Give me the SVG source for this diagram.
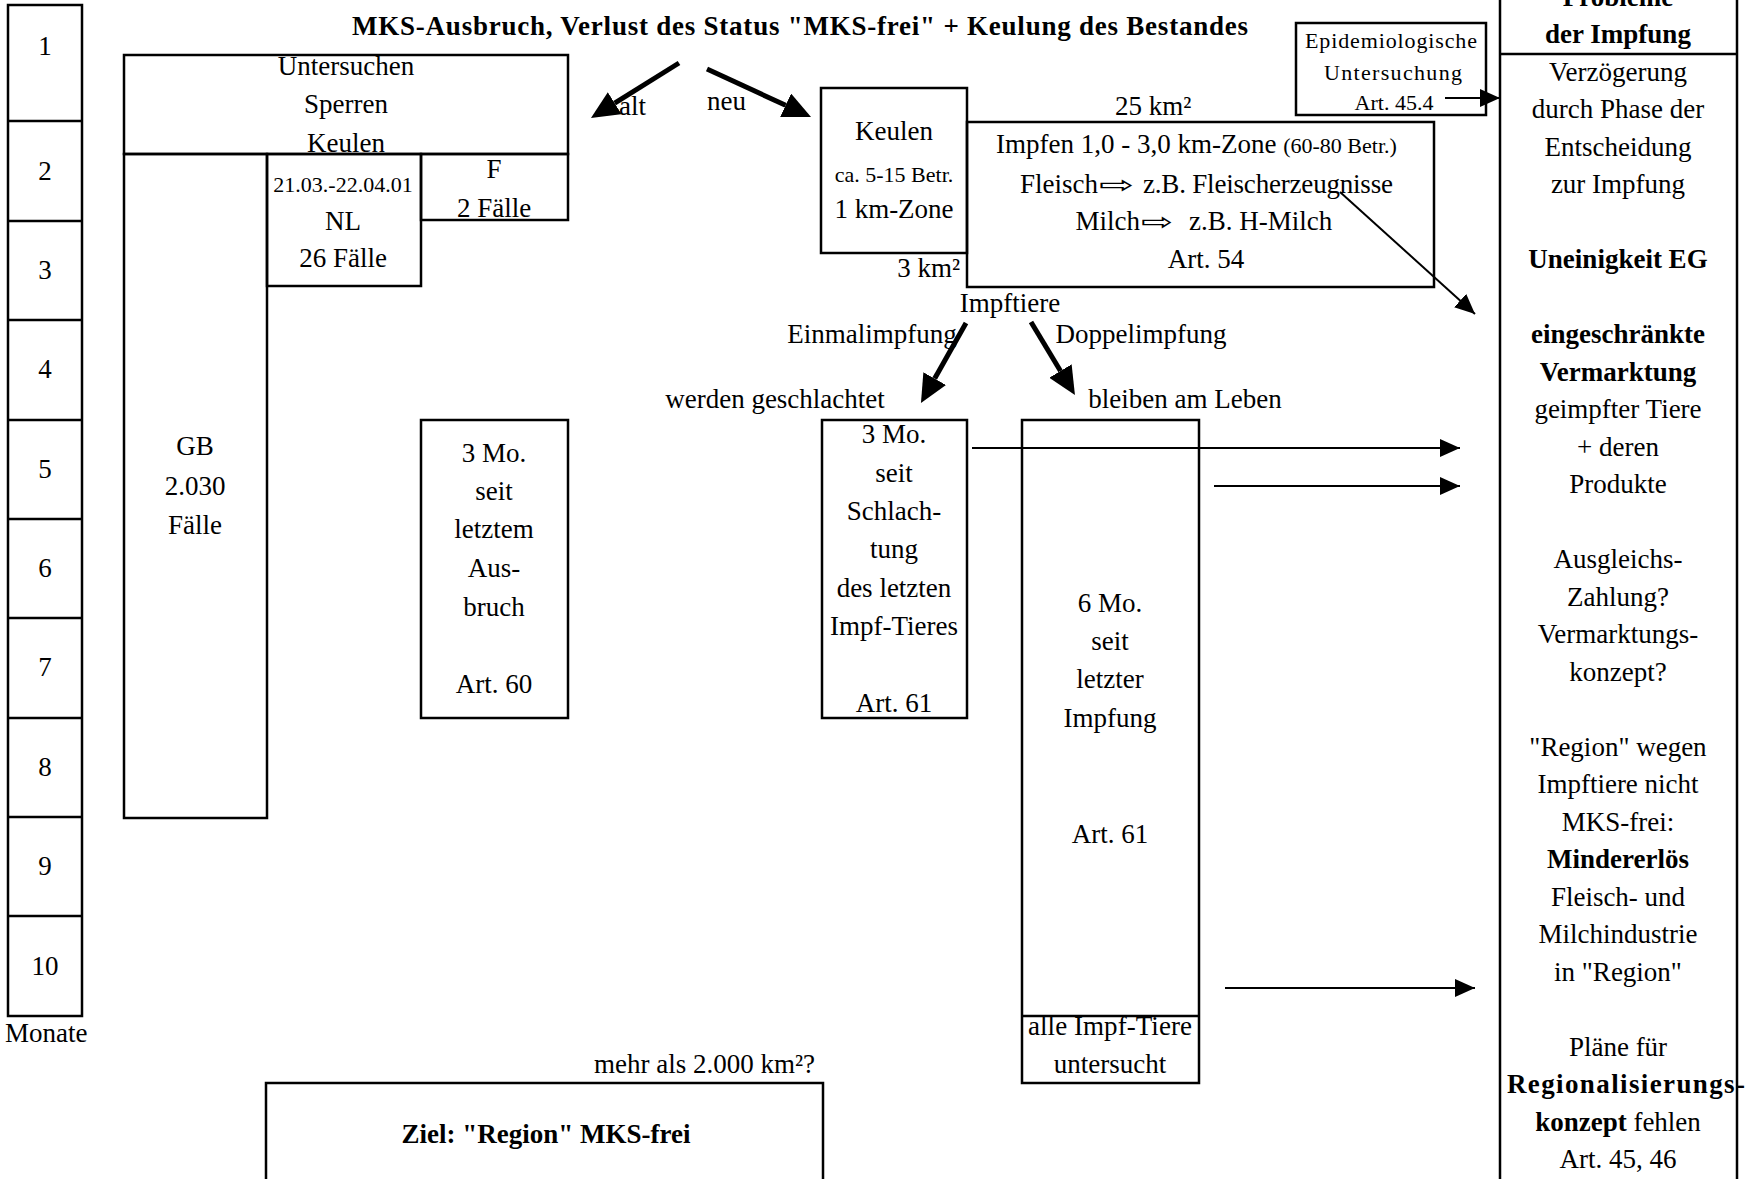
<svg xmlns="http://www.w3.org/2000/svg" width="1750" height="1179" viewBox="0 0 1750 1179">
<defs>
<style>
text { font-family: "Liberation Serif", "Times New Roman", serif; font-size: 27px; fill: #000; }
.b { font-weight: bold; }
.s { font-size: 22px; }
.m { text-anchor: middle; }
.e { text-anchor: end; }
.box { fill: none; stroke: #000; stroke-width: 2.5; }
.ln { fill: none; stroke: #000; stroke-width: 2.5; }
.thin { fill: none; stroke: #000; stroke-width: 2; }
.thick { fill: none; stroke: #000; stroke-width: 5; }
.sym { font-family: "DejaVu Sans", sans-serif; font-size: 24px; }
</style>
<marker id="ah" markerUnits="userSpaceOnUse" markerWidth="20" markerHeight="18" refX="20" refY="9" orient="auto"><path d="M0,0 L20,9 L0,18 z" fill="#000"/></marker>
<marker id="big" markerUnits="userSpaceOnUse" markerWidth="28" markerHeight="26" refX="0" refY="13" orient="auto"><path d="M0,0 L28,13 L0,26 z" fill="#000"/></marker>
</defs>
<rect width="1750" height="1179" fill="#fff"/>

<g id="title">
<text class="b m" x="800" y="35" font-size="29" textLength="896">MKS-Ausbruch, Verlust des Status "MKS-frei" + Keulung des Bestandes</text>
</g>

<g id="months">
<rect class="box" x="8" y="5" width="74" height="1011"/>
<path class="ln" d="M8,121H82M8,221H82M8,320H82M8,420H82M8,519H82M8,618H82M8,718H82M8,817H82M8,916H82"/>
<text class="m" x="45" y="55">1</text>
<text class="m" x="45" y="180">2</text>
<text class="m" x="45" y="279">3</text>
<text class="m" x="45" y="378">4</text>
<text class="m" x="45" y="478">5</text>
<text class="m" x="45" y="577">6</text>
<text class="m" x="45" y="676">7</text>
<text class="m" x="45" y="776">8</text>
<text class="m" x="45" y="875">9</text>
<text class="m" x="45" y="975">10</text>
<text x="5" y="1042">Monate</text>
</g>

<g id="alt-massnahmen">
<rect class="box" x="124" y="55" width="444" height="99"/>
<text class="m" x="346" y="75">Untersuchen</text>
<text class="m" x="346" y="113">Sperren</text>
<text class="m" x="346" y="152">Keulen</text>
</g>

<g id="gb">
<rect class="box" x="124" y="154" width="143" height="664"/>
<text class="m" x="195" y="455">GB</text>
<text class="m" x="195" y="495">2.030</text>
<text class="m" x="195" y="534">Fälle</text>
</g>

<g id="nl">
<rect class="box" x="267" y="154" width="154" height="132"/>
<text class="m s" x="343" y="192">21.03.-22.04.01</text>
<text class="m" x="343" y="230">NL</text>
<text class="m" x="343" y="267">26 Fälle</text>
</g>

<g id="f">
<rect class="box" x="421" y="154" width="147" height="66"/>
<text class="m" x="494" y="178">F</text>
<text class="m" x="494" y="217">2 Fälle</text>
</g>

<g id="art60">
<rect class="box" x="421" y="420" width="147" height="298"/>
<text class="m" x="494" y="462">3 Mo.</text>
<text class="m" x="494" y="500">seit</text>
<text class="m" x="494" y="538">letztem</text>
<text class="m" x="494" y="577">Aus-</text>
<text class="m" x="494" y="616">bruch</text>
<text class="m" x="494" y="693">Art. 60</text>
</g>

<g id="keulen">
<rect class="box" x="821" y="88" width="146" height="165"/>
<text class="m" x="894" y="140">Keulen</text>
<text class="m s" x="894" y="182">ca. 5-15 Betr.</text>
<text class="m" x="894" y="218">1 km-Zone</text>
<text class="e" x="960" y="277">3 km²</text>
</g>

<g id="impfen">
<rect class="box" x="967" y="122" width="467" height="165"/>
<text x="1115" y="115">25 km²</text>
<text x="996" y="153">Impfen 1,0 - 3,0 km-Zone <tspan class="s">(60-80 Betr.)</tspan></text>
<text class="e" x="1098" y="193">Fleisch</text>
<text class="sym" transform="translate(1099,193) scale(1.75,1)">⇨</text>
<text x="1143" y="193" textLength="250">z.B. Fleischerzeugnisse</text>
<text class="e" x="1140" y="230">Milch</text>
<text class="sym" transform="translate(1141,230) scale(1.6,1)">⇨</text>
<text x="1189" y="230">z.B. H-Milch</text>
<text class="m" x="1206" y="268">Art. 54</text>
</g>

<g id="epi">
<rect class="box" x="1296" y="23" width="190" height="92"/>
<text class="m s" x="1391" y="48" textLength="172">Epidemiologische</text>
<text class="m s" x="1393" y="80" textLength="138">Untersuchung</text>
<text class="m s" x="1394" y="110">Art. 45.4</text>
</g>

<g id="labels">
<text x="619" y="115">alt</text>
<text x="707" y="110">neu</text>
<text class="m" x="1010" y="312">Impftiere</text>
<text class="m" x="872" y="343">Einmalimpfung</text>
<text class="m" x="1141" y="343">Doppelimpfung</text>
<text class="m" x="775" y="408">werden geschlachtet</text>
<text class="m" x="1185" y="408">bleiben am Leben</text>
</g>

<g id="art61-schlachtung">
<rect class="box" x="822" y="420" width="145" height="298"/>
<text class="m" x="894" y="443">3 Mo.</text>
<text class="m" x="894" y="482">seit</text>
<text class="m" x="894" y="520">Schlach-</text>
<text class="m" x="894" y="558">tung</text>
<text class="m" x="894" y="597">des letzten</text>
<text class="m" x="894" y="635">Impf-Tieres</text>
<text class="m" x="894" y="712">Art. 61</text>
</g>

<g id="art61-impfung">
<rect class="box" x="1022" y="420" width="177" height="663"/>
<text class="m" x="1110" y="612">6 Mo.</text>
<text class="m" x="1110" y="650">seit</text>
<text class="m" x="1110" y="688">letzter</text>
<text class="m" x="1110" y="727">Impfung</text>
<text class="m" x="1110" y="843">Art. 61</text>
<text class="m" x="1110" y="1035" textLength="164">alle Impf-Tiere</text>
<text class="m" x="1110" y="1073">untersucht</text>
<path class="ln" d="M1022,1016H1199"/>
</g>

<g id="ziel">
<text class="e" x="815" y="1073">mehr als 2.000 km²?</text>
<rect class="box" x="266" y="1083" width="557" height="130"/>
<text class="b m" x="546" y="1143" font-size="28">Ziel: "Region" MKS-frei</text>
</g>

<g id="probleme">
<rect class="box" x="1500" y="-5" width="237" height="1200"/>
<path class="ln" d="M1500,54H1737"/>
<text class="b m" x="1618" y="5.5">Probleme</text>
<text class="b m" x="1618" y="43">der Impfung</text>
<text class="m" x="1618" y="80.5">Verzögerung</text>
<text class="m" x="1618" y="118">durch Phase der</text>
<text class="m" x="1618" y="155.5">Entscheidung</text>
<text class="m" x="1618" y="193">zur Impfung</text>
<text class="b m" x="1618" y="268">Uneinigkeit EG</text>
<text class="b m" x="1618" y="343">eingeschränkte</text>
<text class="b m" x="1618" y="380.5">Vermarktung</text>
<text class="m" x="1618" y="418">geimpfter Tiere</text>
<text class="m" x="1618" y="455.5">+ deren</text>
<text class="m" x="1618" y="493">Produkte</text>
<text class="m" x="1618" y="568">Ausgleichs-</text>
<text class="m" x="1618" y="605.5">Zahlung?</text>
<text class="m" x="1618" y="643">Vermarktungs-</text>
<text class="m" x="1618" y="680.5">konzept?</text>
<text class="m" x="1618" y="755.5">"Region" wegen</text>
<text class="m" x="1618" y="793">Impftiere nicht</text>
<text class="m" x="1618" y="830.5">MKS-frei:</text>
<text class="b m" x="1618" y="868">Mindererlös</text>
<text class="m" x="1618" y="905.5">Fleisch- und</text>
<text class="m" x="1618" y="943">Milchindustrie</text>
<text class="m" x="1618" y="980.5">in "Region"</text>
<text class="m" x="1618" y="1055.5">Pläne für</text>
<text class="b m" x="1626" y="1093" textLength="238">Regionalisierungs-</text>
<text class="m" x="1618" y="1130.5"><tspan class="b">konzept</tspan> fehlen</text>
<text class="m" x="1618" y="1168">Art. 45, 46</text>
</g>

<g id="connectors">
<line class="thick" x1="679" y1="63" x2="614.7" y2="103.2" marker-end="url(#big)"/>
<line class="thick" x1="707" y1="69" x2="785.6" y2="105.3" marker-end="url(#big)"/>
<line class="thick" x1="966" y1="323" x2="934.7" y2="378.6" marker-end="url(#big)"/>
<line class="thick" x1="1031" y1="322" x2="1060.5" y2="371" marker-end="url(#big)"/>
<line class="thin" x1="1445" y1="98" x2="1500" y2="98" marker-end="url(#ah)"/>
<line class="thin" x1="1340" y1="192" x2="1475" y2="314" marker-end="url(#ah)"/>
<line class="thin" x1="972" y1="448" x2="1460" y2="448" marker-end="url(#ah)"/>
<line class="thin" x1="1214" y1="486" x2="1460" y2="486" marker-end="url(#ah)"/>
<line class="thin" x1="1225" y1="988" x2="1475" y2="988" marker-end="url(#ah)"/>
</g>
</svg>
